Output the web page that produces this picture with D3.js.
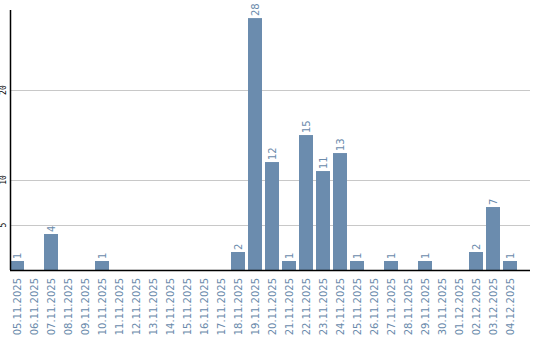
<!DOCTYPE html>
<html>
<head>
<meta charset="utf-8">
<script src="https://cdn.jsdelivr.net/npm/d3@7"></script>
<style>
  body { margin: 0; background: #fff; }
  svg { display: block; }
</style>
</head>
<body>
<div id="chart"></div>
<script>
// daily counts
var days = ["05.11.2025","06.11.2025","07.11.2025","08.11.2025","09.11.2025","10.11.2025",
  "11.11.2025","12.11.2025","13.11.2025","14.11.2025","15.11.2025","16.11.2025","17.11.2025",
  "18.11.2025","19.11.2025","20.11.2025","21.11.2025","22.11.2025","23.11.2025","24.11.2025",
  "25.11.2025","26.11.2025","27.11.2025","28.11.2025","29.11.2025","30.11.2025","01.12.2025",
  "02.12.2025","03.12.2025","04.12.2025"];
var counts = [1,0,4,0,0,1, 0,0,0,0,0,0,0, 2,28,12,1,15,11,13, 1,0,1,0,1,0,0, 2,7,1];
var yTicks = [5, 10, 20];
var yMax = 28.9;

var width = 540, height = 340;
var plotLeft = 10, plotRight = 530, plotTop = 10, plotBottom = 270;
var barColor = "#6b8cae";
var textColor = "#6a8aab";

var svg = d3.select("#chart").append("svg")
  .attr("width", width)
  .attr("height", height);

var x = d3.scaleBand()
  .domain(days)
  .range([plotLeft, 517])
  .paddingInner(3 / 17)
  .paddingOuter(0);

var y = d3.scaleLinear()
  .domain([0, yMax])
  .range([plotBottom, plotTop]);

/* grid */
svg.append("g")
  .selectAll("line")
  .data(yTicks).enter()
  .append("line")
  .attr("x1", plotLeft)
  .attr("x2", plotRight)
  .attr("y1", d => Math.round(y(d)) + 0.5)
  .attr("y2", d => Math.round(y(d)) + 0.5)
  .attr("stroke", "#c8c8c8")
  .attr("stroke-width", 1);

/* y tick labels */
svg.append("g")
  .selectAll("text")
  .data(yTicks).enter()
  .append("text")
  .attr("transform", d => `translate(6, ${y(d)}) rotate(-90)`)
  .attr("text-anchor", "middle")
  .attr("font-family", "DejaVu Sans Mono, monospace")
  .attr("font-size", "8px")
  .attr("fill", "#000")
  .text(d => d);

/* bars + value labels */
var data = days.map((d, i) => ({ day: d, value: counts[i] })).filter(d => d.value > 0);

var bars = svg.append("g");
bars.selectAll("rect")
  .data(data).enter()
  .append("rect")
  .attr("x", d => x(d.day))
  .attr("width", x.bandwidth())
  .attr("y", d => y(d.value))
  .attr("height", d => plotBottom - y(d.value))
  .attr("fill", barColor);

bars.selectAll("text")
  .data(data).enter()
  .append("text")
  .attr("transform", d => `translate(${x(d.day) + x.bandwidth() / 2}, ${y(d.value) - 2}) rotate(-90)`)
  .attr("dy", "0.35em")
  .attr("font-family", "DejaVu Sans, sans-serif")
  .attr("font-size", "10px")
  .attr("fill", textColor)
  .text(d => d.value);

/* x labels */
svg.append("g")
  .selectAll("text")
  .data(days).enter()
  .append("text")
  .attr("transform", d => `translate(${x(d) + x.bandwidth() / 2}, 278) rotate(-90)`)
  .attr("text-anchor", "end")
  .attr("dy", "0.35em")
  .attr("font-family", "DejaVu Sans, sans-serif")
  .attr("font-size", "10px")
  .attr("fill", textColor)
  .text(d => d);

/* axis lines */
svg.append("line")
  .attr("x1", plotLeft + 0.5).attr("x2", plotLeft + 0.5)
  .attr("y1", plotTop).attr("y2", plotBottom)
  .attr("stroke", "#000").attr("stroke-width", 1.5);
svg.append("line")
  .attr("x1", plotLeft).attr("x2", plotRight)
  .attr("y1", plotBottom + 0.5).attr("y2", plotBottom + 0.5)
  .attr("stroke", "#000").attr("stroke-width", 1.5);
</script>
</body>
</html>
